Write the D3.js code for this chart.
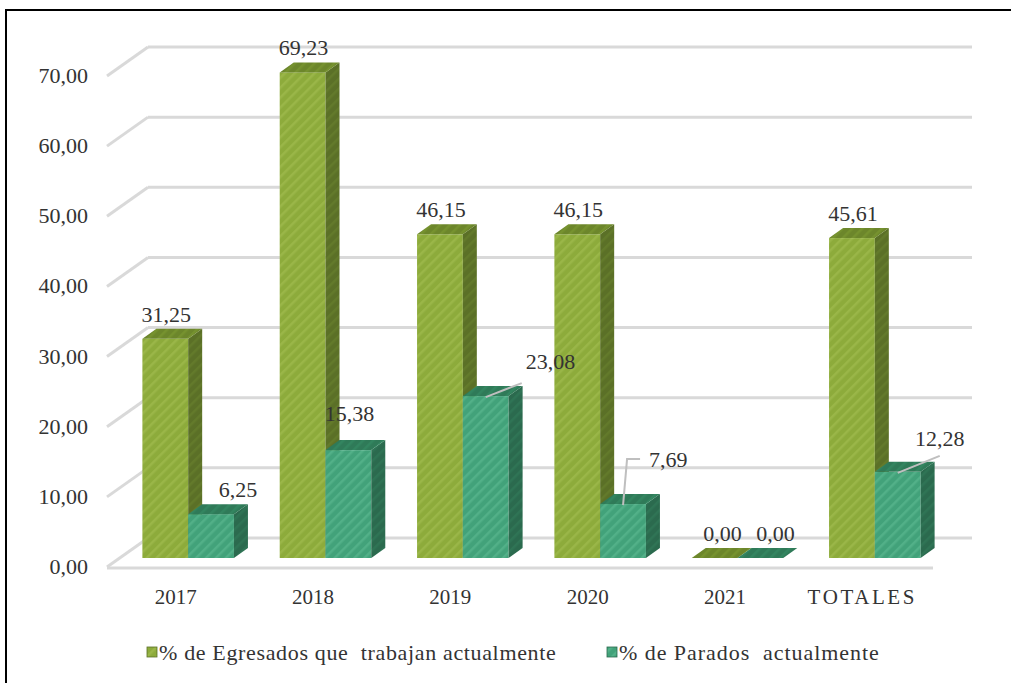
<!DOCTYPE html>
<html>
<head>
<meta charset="utf-8">
<script src="https://cdn.jsdelivr.net/npm/d3@7"></script>
<style>
  body { margin: 0; background: #fff; }
  svg text { font-family: "Liberation Serif", "DejaVu Serif", serif; fill: #333; white-space: pre; }
</style>
</head>
<body>
<div id="chart"></div>
<script>
// data
const categories = ["2017", "2018", "2019", "2020", "2021", "TOTALES"];
const egresados = [31.25, 69.23, 46.15, 46.15, 0.00, 45.61];
const parados = [6.25, 15.38, 23.08, 7.69, 0.00, 12.28];
const seriesNames = ["% de Egresados que  trabajan actualmente", "% de Parados  actualmente"];
const yTicks = [0, 10, 20, 30, 40, 50, 60, 70];

const w = 1011, h = 683;

// 3d look: back wall offset, bar plane offset, bar depth
const wall = { dx: 41, dy: -29 };
const plane = { dx: 12.5, dy: -9 };
const depth = { dx: 14, dy: -10 };

const colors = [
  { front: "#8dab3b", stripe: "#9ab648", side: "#5b7027", top: "#6c862b" },
  { front: "#42a27a", stripe: "#52b088", side: "#2b6a4e", top: "#2f7a58" }
];

const fmt = d3.formatLocale({ decimal: ",", thousands: ".", grouping: [3], currency: ["", "€"] }).format(".2f");

const svg = d3.select("#chart").append("svg")
  .attr("width", w)
  .attr("height", h);

// frame
svg.append("rect")
  .attr("x", 6).attr("y", 10)
  .attr("width", 1020).attr("height", 700)
  .attr("fill", "none")
  .attr("stroke", "#000")
  .attr("stroke-width", 2);

// hatch patterns
const defs = svg.append("defs");
colors.forEach((c, i) => {
  ["front", "side", "top"].forEach(face => {
    const base = c[face];
    const p = defs.append("pattern")
      .attr("id", `hatch-${i}-${face}`)
      .attr("patternUnits", "userSpaceOnUse")
      .attr("width", 7).attr("height", 7)
      .attr("patternTransform", "rotate(45)");
    p.append("rect").attr("width", 7).attr("height", 7).attr("fill", base);
    p.append("rect").attr("width", 2.5).attr("height", 7)
      .attr("fill", face === "front" ? c.stripe : d3.color(base).brighter(0.25));
  });
});

const xScale = d3.scaleBand()
  .domain(categories)
  .range([107, 931])
  .padding(0);

const xSub = d3.scaleBand()
  .domain([0, 1])
  .range([0, xScale.bandwidth()])
  .paddingOuter(0.5)
  .paddingInner(0);

const yScale = d3.scaleLinear()
  .domain([0, 70])
  .range([567, 76]);

const x0 = xScale.range()[0], x1 = xScale.range()[1];

// gridlines on the back wall and the left wall
const grid = svg.append("g");
yTicks.forEach(t => {
  const y = yScale(t);
  grid.append("line")
    .attr("x1", x0 + wall.dx).attr("x2", x1 + wall.dx)
    .attr("y1", y + wall.dy).attr("y2", y + wall.dy)
    .attr("stroke", "#d9d9d9").attr("stroke-width", 3);
  grid.append("line")
    .attr("x1", x0).attr("y1", y)
    .attr("x2", x0 + wall.dx).attr("y2", y + wall.dy)
    .attr("stroke", "#d9d9d9").attr("stroke-width", 3);
});
// front edge of floor
grid.append("line")
  .attr("x1", x0).attr("x2", x1 + 2)
  .attr("y1", yScale(0) + 1).attr("y2", yScale(0) + 1)
  .attr("stroke", "#d9d9d9").attr("stroke-width", 3);

// y tick labels
svg.append("g").selectAll("text")
  .data(yTicks)
  .join("text")
  .attr("x", 88)
  .attr("y", d => yScale(d) + 7)
  .attr("text-anchor", "end")
  .attr("font-size", 22)
  .text(d => fmt(d));

// x labels
svg.append("g").selectAll("text")
  .data(categories)
  .join("text")
  .attr("x", d => xScale(d) + xScale.bandwidth() / 2)
  .attr("y", 604)
  .attr("text-anchor", "middle")
  .attr("font-size", 21)
  .attr("letter-spacing", d => isNaN(d) ? 2.6 : 0)
  .text(d => d);

// bars
const bars = [];
categories.forEach((c, ci) => {
  [egresados, parados].forEach((s, si) => {
    bars.push({ cat: c, s: si, v: s[ci] });
  });
});

const barG = svg.append("g");
bars.forEach(b => {
  const xl = xScale(b.cat) + xSub(b.s) + plane.dx;
  const xr = xl + xSub.bandwidth();
  const yb = yScale(0) + plane.dy;
  const yt = yScale(b.v) + plane.dy;
  b.xl = xl; b.xr = xr; b.yt = yt;
  const g = barG.append("g");
  if (yb - yt > 0.5) {
    g.append("rect")
      .attr("x", xl).attr("y", yt)
      .attr("width", xr - xl).attr("height", yb - yt)
      .attr("fill", `url(#hatch-${b.s}-front)`);
    g.append("path")
      .attr("d", `M${xr},${yt}L${xr + depth.dx},${yt + depth.dy}L${xr + depth.dx},${yb + depth.dy}L${xr},${yb}Z`)
      .attr("fill", `url(#hatch-${b.s}-side)`);
  }
  g.append("path")
    .attr("d", `M${xl},${yt}L${xl + depth.dx},${yt + depth.dy}L${xr + depth.dx},${yt + depth.dy}L${xr},${yt}Z`)
    .attr("fill", `url(#hatch-${b.s}-top)`);
});

// data labels; some are nudged, a few have leader lines
const leaders = {
  "2017": { kind: "none", dx: 26, dy: 0 },
  "2018": { kind: "none", dx: 0, dy: -12 },
  "2019": { kind: "slant", dx: 36, dy: -14 },
  "2020": { kind: "elbow", dx: 17, dy: -46 },
  "TOTALES": { kind: "slant", dx: 42, dy: -17 }
};
const labelG = svg.append("g");
bars.forEach(b => {
  const cx = (b.xl + b.xr) / 2;
  const ld = b.s === 1 ? leaders[b.cat] : null;
  if (ld && ld.kind !== "none") {
    const sx = cx, sy = b.yt + 1;
    if (ld.kind === "slant") {
      labelG.append("line")
        .attr("x1", sx).attr("y1", sy)
        .attr("x2", sx + ld.dx).attr("y2", sy + ld.dy)
        .attr("stroke", "#bfbfbf").attr("stroke-width", 2);
      const tot = b.cat === "TOTALES";
      labelG.append("text")
        .attr("x", tot ? sx + ld.dx : sx + ld.dx + 4)
        .attr("y", sy + ld.dy - (tot ? 10 : 14))
        .attr("text-anchor", tot ? "middle" : "start")
        .attr("font-size", 22)
        .text(fmt(b.v));
    } else {
      labelG.append("path")
        .attr("d", `M${sx},${sy}L${sx + 4},${sy + ld.dy}L${sx + ld.dx},${sy + ld.dy}`)
        .attr("fill", "none")
        .attr("stroke", "#bfbfbf").attr("stroke-width", 2);
      labelG.append("text")
        .attr("x", sx + ld.dx + 9)
        .attr("y", sy + ld.dy + 8)
        .attr("font-size", 22)
        .text(fmt(b.v));
    }
  } else {
    const nx = ld ? ld.dx : 0, ny = ld ? ld.dy : 0;
    const zero = b.v === 0 ? (b.s === 0 ? 8 : 15) : 1;
    labelG.append("text")
      .attr("x", cx + zero + nx)
      .attr("y", b.yt + depth.dy - 7 + ny)
      .attr("text-anchor", "middle")
      .attr("font-size", 22)
      .text(fmt(b.v));
  }
});

// legend
const legendX = [147, 607];
const legendSpacing = [0.65, 0.95];
const legend = svg.append("g");
seriesNames.forEach((name, i) => {
  legend.append("rect")
    .attr("x", legendX[i]).attr("y", 647)
    .attr("width", 10).attr("height", 10)
    .attr("fill", `url(#hatch-${i}-front)`)
    .attr("stroke", colors[i].side).attr("stroke-width", 0.8);
  legend.append("text")
    .attr("x", legendX[i] + 12)
    .attr("y", 660)
    .attr("font-size", 22)
    .attr("letter-spacing", legendSpacing[i])
    .text(name);
});
</script>
</body>
</html>
